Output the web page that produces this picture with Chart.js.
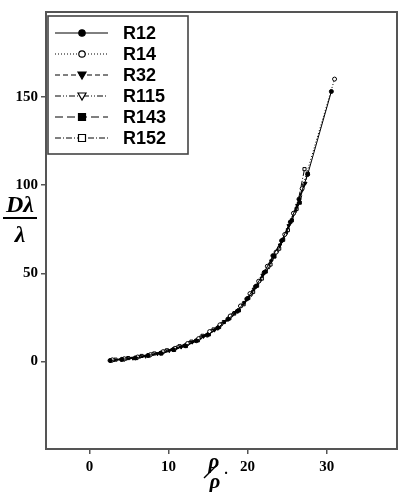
<!DOCTYPE html>
<html>
<head>
<meta charset="utf-8">
<script src="https://cdn.jsdelivr.net/npm/chart.js@4.4.1/dist/chart.umd.min.js"></script>
<style>
  body { margin: 0; background: #fff; }
  #wrap { width: 402px; height: 492px; }
</style>
</head>
<body>
<div id="wrap"><canvas id="curveChart"></canvas></div>
<script>
// series data (x = rho/rho*, y = D lambda / lambda)
const seriesNames = ['R12', 'R14', 'R32', 'R115', 'R143', 'R152'];
const xTickValues = [0, 10, 20, 30];
const yTickValues = [0, 50, 100, 150];

const r12X = [2.6, 4.1, 5.8, 7.4, 9.0, 10.6, 12.1, 13.5, 14.9, 16.2, 17.5, 18.7, 19.9, 21.0, 22.1, 23.2, 24.3, 25.4, 26.5, 27.6, 30.6];
const r12Y = [0.6, 1.3, 2.1, 3.5, 4.8, 6.8, 9.0, 11.8, 15.0, 19.0, 24.0, 28.5, 35.5, 42.5, 50.5, 60, 68.5, 79, 92, 106, 153];

const r14X = [2.9, 4.4, 6.1, 7.7, 9.3, 10.8, 12.4, 13.8, 15.2, 16.5, 17.8, 19.1, 20.3, 21.4, 22.5, 23.6, 24.7, 25.8, 26.9, 31.0];
const r14Y = [1.0, 1.6, 2.6, 3.9, 5.6, 7.5, 10.2, 13.0, 17.0, 20.8, 25.8, 31.5, 38.5, 45.5, 54, 62, 72, 84, 98, 160];

const r32X = [2.7, 4.0, 5.5, 7.1, 8.6, 10.1, 11.6, 13.0, 14.4, 15.8, 17.1, 18.4, 19.6, 20.8, 21.9, 23.0, 24.1, 25.2, 26.3, 27.3];
const r32Y = [0.4, 1.0, 1.9, 3.0, 4.4, 6.2, 8.2, 11.0, 14.2, 17.8, 22.5, 27.8, 33.5, 41.0, 49.0, 57.0, 66.0, 77.0, 88.5, 101];

const r115X = [3.1, 4.7, 6.4, 8.0, 9.6, 11.2, 12.7, 14.1, 15.5, 16.8, 18.1, 19.3, 20.5, 21.6, 22.7, 23.8, 24.9, 26.0, 27.1];
const r115Y = [0.9, 1.8, 2.9, 4.3, 6.0, 8.3, 10.8, 13.8, 17.5, 21.5, 26.5, 31.8, 38.0, 45.8, 53.5, 62.5, 72.5, 84.5, 100];

const r143X = [2.8, 4.3, 5.9, 7.5, 9.1, 10.7, 12.2, 13.7, 15.1, 16.4, 17.7, 18.9, 20.1, 21.2, 22.3, 23.4, 24.5, 25.6, 26.6, 27.6];
const r143Y = [0.7, 1.2, 2.0, 3.4, 4.6, 6.6, 8.8, 12.0, 15.4, 19.6, 24.5, 29.0, 36.0, 43.0, 51.0, 59.5, 69.0, 80.0, 90.0, 106.5];

const r152X = [3.3, 4.9, 6.6, 8.2, 9.8, 11.4, 12.9, 14.3, 15.7, 17.0, 18.3, 19.5, 20.7, 21.8, 22.9, 24.0, 25.1, 26.2, 27.2];
const r152Y = [1.1, 2.0, 3.2, 4.6, 6.4, 8.7, 11.3, 14.6, 18.2, 22.4, 27.2, 32.5, 39.5, 47.0, 55.0, 64.0, 74.5, 86.5, 109];

const xValues = [r12X, r14X, r32X, r115X, r143X, r152X];
const yValues = [r12Y, r14Y, r32Y, r115Y, r143Y, r152Y];

// line / marker look for each series
const dashes = [[], [1, 2], [5, 3], [6, 2, 1, 2, 1, 2], [8, 4], [6, 2, 1, 2]];
const markers = ['circle', 'circle', 'triangle', 'triangle', 'rect', 'rect'];
const filled = [true, false, true, false, true, false];
const rotations = [0, 0, 180, 180, 0, 0];

function toPoints(xs, ys) {
    return xs.map((x, i) => ({ x: x, y: ys[i] }));
}

const datasets = seriesNames.map((name, i) => ({
    label: name,
    data: toPoints(xValues[i], yValues[i]),
    showLine: true,
    borderColor: '#000',
    borderWidth: 1,
    borderDash: dashes[i],
    pointStyle: markers[i],
    rotation: rotations[i],
    pointRadius: markers[i] === 'rect' ? 2.2 : 2,
    pointBorderWidth: 1,
    pointBorderColor: '#000',
    pointBackgroundColor: filled[i] ? '#000' : '#fff',
    tension: 0
}));

// draw one marker in the legend
function drawMarker(ctx, style, fill, rot, x, y) {
    ctx.save();
    ctx.setLineDash([]);
    ctx.lineWidth = 1.2;
    ctx.strokeStyle = '#000';
    ctx.fillStyle = fill ? '#000' : '#fff';
    ctx.beginPath();
    if (style === 'circle') {
        ctx.arc(x, y, 3.2, 0, Math.PI * 2);
    } else if (style === 'rect') {
        ctx.rect(x - 3.5, y - 3.5, 7, 7);
    } else {
        const s = rot === 180 ? 1 : -1;
        ctx.moveTo(x - 4, y - 3 * s);
        ctx.lineTo(x + 4, y - 3 * s);
        ctx.lineTo(x, y + 4 * s);
        ctx.closePath();
    }
    ctx.fill();
    ctx.stroke();
    ctx.restore();
}

const framePlugin = {
    id: 'framePlugin',
    afterDraw(chart) {
        const ctx = chart.ctx;
        const a = chart.chartArea;
        ctx.save();
        // plot frame
        ctx.strokeStyle = '#555';
        ctx.lineWidth = 2;
        ctx.strokeRect(a.left, a.top, a.right - a.left, a.bottom - a.top);

        // legend box
        ctx.strokeStyle = '#444';
        ctx.lineWidth = 1.6;
        ctx.strokeRect(48, 16, 140, 138);
        const rows = [33, 54, 75, 96, 117, 138];
        ctx.font = 'bold 18px "Liberation Sans", Arial, sans-serif';
        ctx.textBaseline = 'middle';
        seriesNames.forEach((name, i) => {
            const y = rows[i];
            ctx.strokeStyle = '#000';
            ctx.lineWidth = 1;
            ctx.setLineDash(dashes[i]);
            ctx.beginPath();
            ctx.moveTo(55, y);
            ctx.lineTo(108, y);
            ctx.stroke();
            ctx.setLineDash([]);
            drawMarker(ctx, markers[i], filled[i], rotations[i], 82, y);
            ctx.fillStyle = '#000';
            ctx.textAlign = 'left';
            ctx.fillText(name, 123, y + 1);
        });

        // y-axis title as a fraction
        ctx.fillStyle = '#000';
        ctx.textAlign = 'center';
        ctx.textBaseline = 'alphabetic';
        ctx.font = 'italic bold 24px "Liberation Serif", "Times New Roman", serif';
        ctx.fillText('D\u03bb', 20, 212);
        ctx.fillText('\u03bb', 20, 242);
        ctx.lineWidth = 2;
        ctx.beginPath();
        ctx.moveTo(3, 218);
        ctx.lineTo(37, 218);
        ctx.stroke();

        // x-axis title rho / rho*
        ctx.font = 'italic bold 21px "Liberation Serif", "Times New Roman", serif';
        ctx.fillText('\u03c1', 214, 468);
        ctx.fillText('\u03c1', 215, 488);
        ctx.lineWidth = 1.5;
        ctx.beginPath();
        ctx.moveTo(204, 478);
        ctx.lineTo(218, 464);
        ctx.stroke();
        ctx.font = 'bold 14px "Liberation Serif", serif';
        ctx.fillText('\u00b7', 226, 478);
        ctx.restore();
    }
};

const tickFont = { family: '"Liberation Serif", "Times New Roman", serif', size: 15, weight: 'bold' };

new Chart(document.getElementById('curveChart').getContext('2d'), {
    type: 'scatter',
    data: { datasets: datasets },
    options: {
        responsive: true,
        maintainAspectRatio: false,
        animation: false,
        layout: { padding: { top: 4, right: 4, left: 0, bottom: 0 } },
        plugins: {
            legend: { display: false },
            tooltip: { enabled: false }
        },
        scales: {
            x: {
                type: 'linear',
                min: -5.5,
                max: 38.9,
                afterFit: (scale) => { scale.height = 43; },
                afterBuildTicks: (scale) => { scale.ticks = xTickValues.map(v => ({ value: v })); },
                border: { display: false },
                grid: { drawOnChartArea: false, drawTicks: true, tickLength: 5, color: '#555', lineWidth: 1.5 },
                ticks: { color: '#000', font: tickFont, padding: 4, maxRotation: 0 }
            },
            y: {
                type: 'linear',
                min: -49.5,
                max: 198,
                afterFit: (scale) => { scale.width = 46; },
                afterBuildTicks: (scale) => { scale.ticks = yTickValues.map(v => ({ value: v })); },
                border: { display: false },
                grid: { drawOnChartArea: false, drawTicks: true, tickLength: 5, color: '#555', lineWidth: 1.5 },
                ticks: { color: '#000', font: tickFont, padding: 3 }
            }
        }
    },
    plugins: [framePlugin]
});
</script>
</body>
</html>
